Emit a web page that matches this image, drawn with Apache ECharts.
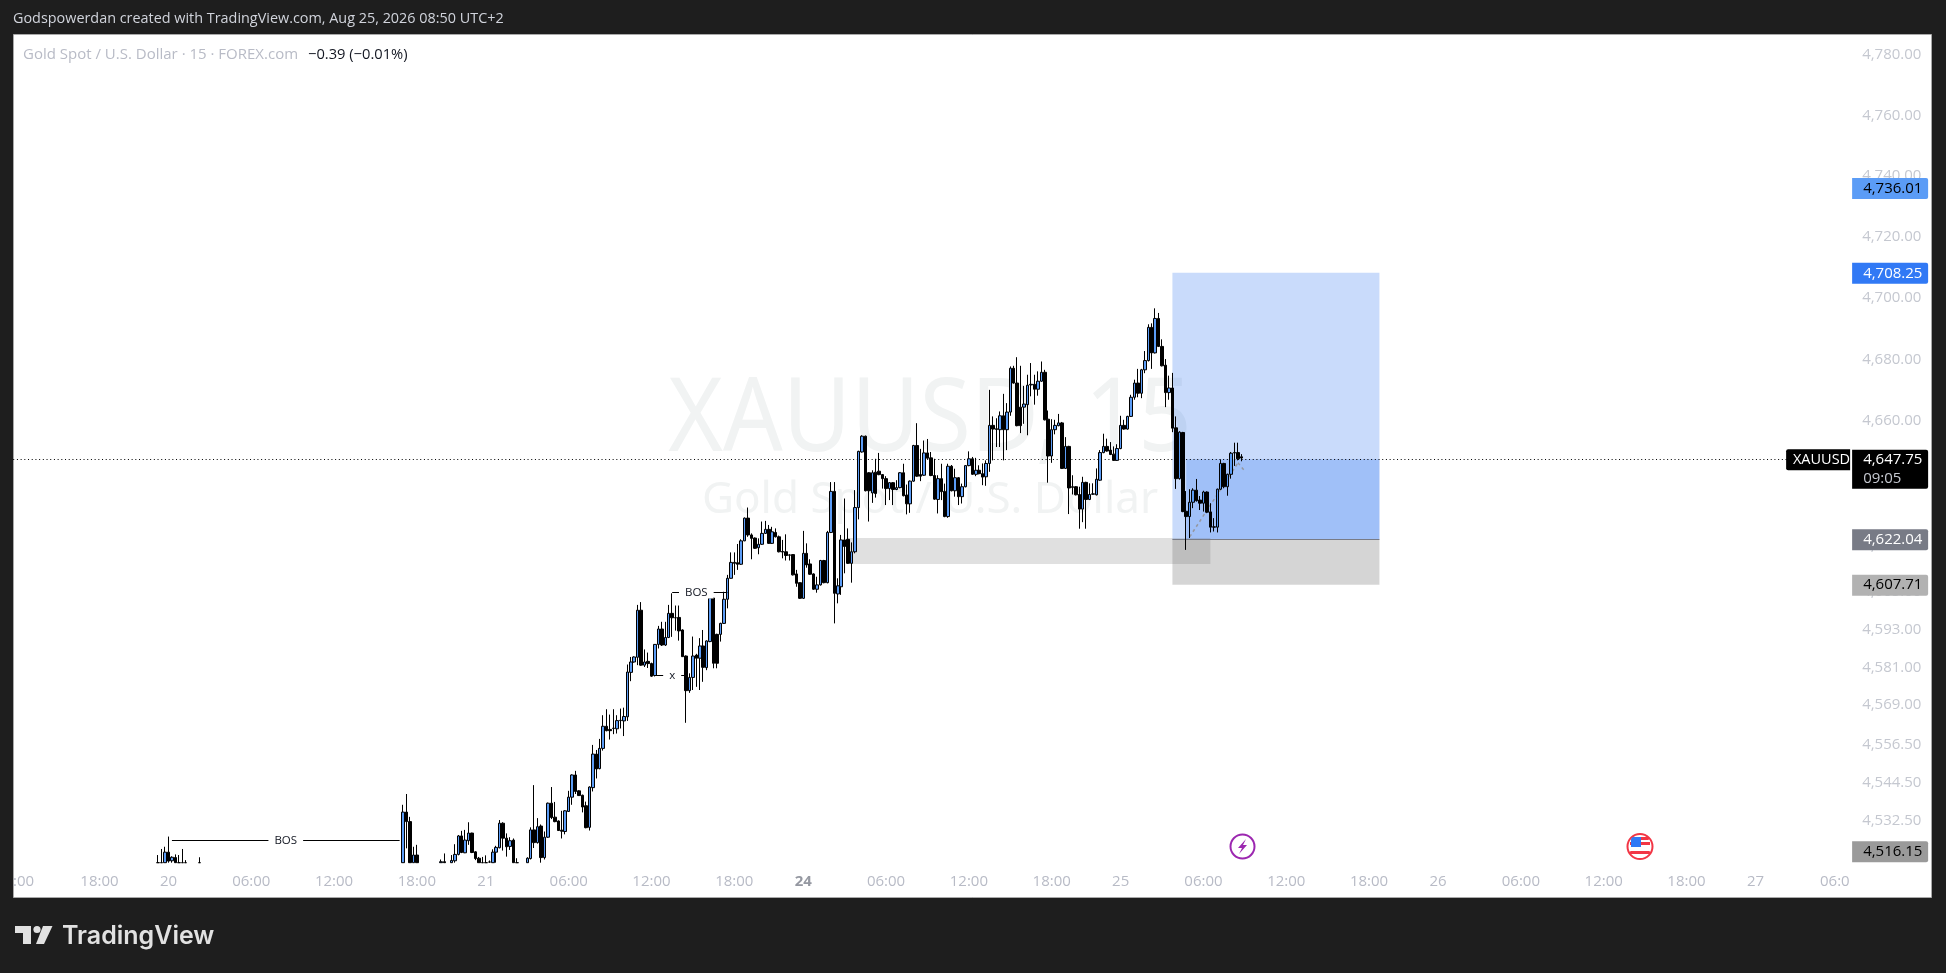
<!DOCTYPE html>
<html><head><meta charset="utf-8">
<style>html,body{margin:0;padding:0;background:#1e1e1e}#c{width:1946px;height:973px}</style>
<script src="https://cdn.jsdelivr.net/npm/echarts@6/dist/echarts.min.js"></script>
</head><body><div id="c"></div>
<script>
// Row layout: [open, close, low, high]. Bars cut by the pane bottom are stored at the visible floor.
const firstBar = 42;
const barCount = 533;
const lateAug19 = [[4519,4519,4519,4521.4],[4519,4519,4519,4523.3],[4519,4522.3,4519,4524]];
const aug20Open = [[4522.3,4519.5,4519,4527.2],[4519.6,4520.7,4519,4521],[4520.6,4519,4519,4521.6],[4519,4519,4519,4521.4],[4519,4519,4519,4523.3],[4519,4519,4519,4519.8],null,null,null,[4519,4519,4519,4520.7]];
const aug20Hidden = 58;
const aug20Evening = [[4519,4534.9,4519,4537.2],[4534.9,4531.9,4523.5,4540.6],[4531.9,4519,4519,4533.4],[4519,4521.4,4519,4524],[4521.4,4519,4519,4524.6]];
const aug20Gap = 6;
const aug20Late = [[4519,4519.3,4519,4520],[4519.3,4519,4519,4521.9],null,[4519,4519.7,4519,4521.4],[4519.6,4521.6,4519,4524.8],[4521.6,4527.4,4521.3,4527.7],[4527.4,4522.2,4522,4529],[4522.1,4526.1,4522,4529.3],[4525.9,4528.3,4524.6,4531.7],[4528.3,4522.2,4522,4528.4],[4522.4,4520.3,4519.8,4522.6],[4520.4,4519,4519,4520.8],[4519,4519,4519,4520.8]];
const aug21Morning = [[4519,4519,4519,4521.3],[4519.2,4519.2,4519,4519.7],[4519,4522.3,4519,4523.2],[4522.3,4523.8,4519,4524.3],[4523.7,4531.4,4523.5,4532.4],[4531.4,4526.7,4522.8,4531.7],[4526.7,4524,4520.9,4528.2],[4524.1,4525.9,4523,4527],[4526.1,4519,4519,4526.6],[4519,4519,4519,4520.4],null,null,[4519,4520.4,4519,4520.7],[4520.3,4529.3,4520,4530.1],[4529.3,4525.3,4523.6,4543.4],[4525.3,4530.3,4525,4533],[4530.5,4520.6,4519,4531],[4520.6,4527,4520,4528.8],[4527,4537.7,4526.8,4537.9],[4537.7,4533.2,4532.7,4542.8],[4533.3,4531.9,4531.7,4538.1],[4532.1,4529.1,4529,4532.3],[4529.2,4528.9,4526.6,4535.3],[4528.8,4535.3,4527.9,4535.5],[4535.1,4539.6,4535,4541.6],[4539.6,4546.6,4537.2,4546.8],[4546.6,4541.4,4540.6,4547.9],[4541.6,4540.1,4540,4541.8],[4540.2,4536.5,4534.8,4540.4],[4536.9,4530,4529.8,4538.2],[4530.1,4542.8,4529.1,4543]];
const aug21Rally = [[4542.6,4553.2,4541.4,4556.1],[4553.2,4548.5,4545.5,4554.5],[4548.6,4555,4548.4,4558],[4555,4562,4554.3,4565.5],[4562,4560.6,4560.4,4567.4],[4561,4560.6,4557.8,4565.7],[4561.3,4561.4,4559.5,4567.4],[4561.2,4563.8,4559.7,4565.5],[4563.8,4563.9,4561.3,4567.6],[4563.7,4565.1,4558.9,4567.9],[4565,4579.2,4563.7,4581.6],[4579.1,4582.4,4576.3,4584],[4582.4,4584,4582.2,4584.2],[4583.9,4598.9,4581.4,4600.6],[4598.9,4581.4,4581.2,4601.5],[4581.4,4582.4,4580.8,4586.4],[4582.6,4581.9,4580.5,4585.4],[4581.9,4577.9,4577.7,4582.2],[4578.1,4588,4577.8,4588.1],[4588,4592.9,4586.7,4593.9],[4592.9,4587.8,4587.5,4595.2],[4587.8,4590.2,4587.5,4595.2],[4590.2,4597.9,4590,4600.6],[4597.9,4596.5,4590.4,4604.3],[4596.5,4596.5,4592.4,4600.4],[4596.6,4592.3,4589.2,4600.4],[4592.6,4584.1,4584,4592.8],[4584.3,4573.3,4563.1,4584.5],[4573.3,4577.5,4572.6,4578.8],[4577.5,4584.3,4573.5,4590.5],[4584.6,4583.6,4574.5,4585],[4583.6,4587.5,4573.5,4590],[4587.5,4580.7,4576.1,4592.6],[4580.6,4589.1,4579.8,4589.3],[4588.9,4602.8,4588.7,4603],[4602.8,4582,4580.4,4603],[4591.2,4582,4580.4,4591.4],[4591.2,4594.7,4588.9,4594.9],[4594.7,4602.4,4594.5,4604.8],[4602.4,4609.1,4599.5,4610.2],[4609.1,4614.2,4609,4617.4],[4614.2,4613.9,4610.2,4617.4],[4614.1,4613.6,4611.8,4620.1],[4613.6,4621.1,4613.4,4621.6],[4621.1,4628.4,4621,4628.6],[4628.4,4623,4622.4,4631.8],[4623,4621.9,4615.2,4623.5],[4622,4618.7,4618.5,4622.2],[4618.9,4620,4616.8,4621.9],[4620,4623.5,4619.8,4627.3],[4623.5,4624.8,4623.3,4627.5],[4624.8,4620.3,4620.1,4626.2],[4620.3,4624,4620.1,4625.6],[4623.8,4622.4,4622.2,4625.1],[4622.4,4617.6,4617.4,4622.8],[4617.7,4617.5,4615.5,4621.4],[4617.6,4616.4,4614.8,4623.2],[4616.6,4616.5,4614.8,4616.8],[4616.7,4610.2,4610,4616.8],[4610.5,4607.5,4606.4,4611.8],[4607.7,4602.7,4602.5,4607.8]];
const aug24Asia = [[4602.7,4617.1,4602.5,4624.3],[4617.1,4613.4,4612.5,4620.3],[4613.7,4610.4,4610.2,4615.2],[4610.5,4605.6,4605.4,4610.7],[4605.6,4607,4604.5,4609.6],[4607,4614.8,4606.8,4615],[4614.8,4607.7,4607.5,4615],[4607.7,4623.8,4607.5,4624.3],[4623.8,4637,4623.6,4640],[4637,4604.3,4594.7,4640],[4604.1,4606.7,4601.1,4609.1],[4606.4,4621.4,4603.8,4623],[4621.4,4619.3,4610.7,4634.7],[4621.6,4613.9,4613.7,4625.1],[4613.9,4617.6,4607.7,4620.6],[4617.6,4631.8,4617.1,4637.4],[4631.8,4649.9,4628,4650.1],[4649.7,4654.8,4649.5,4655.1],[4654.8,4637.2,4637,4655],[4643,4637.2,4627.3,4643.2],[4636.5,4643,4633.3,4643.8],[4643.2,4636.3,4635,4647.5],[4643.5,4642.4,4642.2,4649.4],[4642.4,4641.1,4637.9,4642.6],[4641.1,4637.9,4632.6,4641.9],[4637.9,4639.8,4634.2,4640],[4639.8,4637.6,4632.6,4640],[4637.6,4638.2,4637.4,4640.6],[4638.2,4643,4638,4643.2],[4643,4635.6,4635.4,4645.9],[4635.8,4633,4629.6,4639.2],[4633,4640.3,4630.1,4640.5],[4640.3,4651.8,4640.1,4652],[4651.8,4641.9,4641.7,4659],[4642.4,4641.9,4640.3,4650.7],[4642.2,4649.4,4642,4653.4],[4649.4,4647.7,4647.5,4653.9],[4647.8,4642.1,4641.9,4649.7],[4642.1,4634.5,4634.3,4647.5],[4634.4,4641.1,4629.9,4642.2],[4641.1,4636.9,4634.2,4645.9],[4637,4628.9,4628.7,4639.5],[4628.9,4645.1,4628.5,4645.9],[4645.1,4637.2,4637,4645.5],[4637.2,4641.4,4635.3,4644.3],[4641.4,4635.3,4632.6,4641.6],[4635.3,4638.5,4633.1,4639.5],[4638.5,4645.3,4638.3,4645.5],[4645.3,4647.5,4645.1,4649.9],[4647.5,4642.5,4642.3,4648.1],[4642.5,4643.8,4641.9,4647.8],[4643.8,4642.7,4642.5,4645.4]];
const aug24Late = [[4642.7,4641.6,4639,4646],[4641.7,4646,4638.8,4647],[4646,4658.3,4643.3,4669.8],[4658.3,4657.1,4647,4661.2],[4657.2,4657,4651.3,4660.6],[4656.9,4661.4,4651.3,4662.8],[4661.4,4656.9,4647,4668.5],[4656.9,4662.6,4650.3,4665.5],[4662.6,4676.8,4661.4,4677.4],[4676.8,4672,4671.8,4677.6],[4672,4658.2,4658,4680.4],[4664.2,4658.2,4655.8,4677.6],[4664.2,4665.2,4658.8,4671.1],[4665,4671.3,4655.1,4674.7],[4671.4,4671.6,4667.7,4678.5],[4671.6,4670,4665,4674.7],[4670,4672.6,4667.9,4675.8],[4672.6,4675.5,4672.4,4679],[4675.5,4660.1,4659.9,4676.3],[4660.3,4648.4,4639.8,4663.1],[4648.4,4656.9,4646.2,4660.3],[4656.9,4658.3,4655.4,4660.1],[4658.2,4659.1,4658,4662],[4659.1,4644.4,4644.2,4659.4],[4644.4,4651.5,4644.2,4654.5],[4651.5,4638.1,4629.7,4651.7],[4638.5,4638.3,4636,4642.2],[4638.5,4635.9,4635.7,4638.7],[4636,4631.3,4625,4638.5],[4631.3,4639.9,4627.1,4641.7],[4639.9,4634.4,4625,4640.1],[4634.4,4636,4634.2,4639.6],[4636.1,4636.2,4635.9,4639.6],[4635.9,4640.9,4635.7,4644.4],[4640.6,4649.5,4640.4,4650.3],[4649.5,4651.5,4649.3,4655.6],[4651.5,4650,4649.8,4654],[4650.3,4648.9,4648.7,4652.9],[4649,4647,4646.8,4651.5],[4647,4650.8,4646.8,4652.2]];
const aug25Bars = [[4650.8,4658.3,4650.6,4661.4],[4658.3,4657.1,4656.9,4660.1],[4657.1,4661.2,4656.9,4661.4],[4661.2,4667.4,4661,4668.2],[4667.4,4672,4666.6,4673.1],[4672,4668.7,4667.4,4676.6],[4668.7,4676.3,4667.1,4676.6],[4676.3,4679.3,4675.2,4682.4],[4679.3,4690.1,4679,4691.1],[4690.1,4681.8,4676.6,4691.4],[4681.8,4693,4681.6,4696.3],[4693,4683.9,4683.7,4694.8],[4683.9,4677.6,4677.4,4686.2],[4677.8,4668.9,4664.2,4679.8],[4668.9,4670.4,4666.6,4674.4],[4670.4,4657.4,4656.1,4675.3],[4657.5,4641.1,4637.8,4661.2],[4641.1,4656.1,4640.8,4656.4],[4656,4630.5,4630.3,4656.2],[4630.6,4628.9,4618.2,4637.1],[4628.9,4633.5,4622,4637.7],[4633.5,4637.4,4631.6,4638],[4637.4,4634,4633.7,4641],[4634.2,4633.2,4631,4635.5],[4633.2,4636.8,4630.5,4637.2],[4636.8,4630.3,4630,4637],[4630.4,4625.5,4623.8,4633.2],[4625.6,4625.5,4624.1,4628.4],[4625.5,4637.7,4623.8,4637.9],[4637.7,4646,4637.5,4647.3],[4646,4638.5,4638,4646.2],[4638.5,4642.5,4635.6,4642.7],[4642.5,4649.3,4641.1,4649.7],[4649.4,4649.5,4645.2,4652.7],[4649.5,4647.5,4647,4652.7],[4648.14,4647.75,4646.7,4649]];

const axisMin = 4518.9, axisMax = 4786.6;
const priceTicks = [4780,4760,4740,4720,4700,4680,4660,4640,4620,4605,4593,4581,4569,4556.5,4544.5,4532.5];
const tickBars = [3,25,45,69,93,117,137,161,185,209,229,253,277,301,321,345,369,393,413,437,461,485,505,528];
const tickTexts = [':00','18:00','20','06:00','12:00','18:00','21','06:00','12:00','18:00','{b|24}','06:00','12:00','18:00','25','06:00','12:00','18:00','26','06:00','12:00','18:00','27','06:0'];

const lastPriceText = '4,647.75';
const lastLevel = 4647.35, targetLevel = 4707.9, entryLevel = 4621.65, stopLevel = 4607.05;
const priceTagAnchors = [4735.7,4707.9,4621.65,4607.05,4522.6];
const priceTagTexts = ['4,736.01','4,708.25','4,622.04','4,607.71','4,516.15'];
const priceTagFills = ['#5b9cf6','#3179f5','#787b86','#b2b2b2','#9a9a9a'];
const priceTagInks = ['#000','#fff','#fff','#000','#000'];
const toolBars = [336,396];
const activeBar = 340;
const zoneBars = [242,347], zonePrices = [4622,4613.7];
const noteBars = [79,198,191];
const notePrices = [4525.9,4604.6,4578.1];
const noteTexts = ['BOS','BOS','x'];
const noteSpans = [[46,112],[191,207],[186,195]];
const pathBars = [341,355,357];
const pathPrices = [4622.4,4646.2,4643.5];

const empty = n => new Array(n).fill(null);
const bars = [...lateAug19,...aug20Open,...empty(aug20Hidden),...aug20Evening,...empty(aug20Gap),...aug20Late,...aug21Morning,...aug21Rally,...aug24Asia,...aug24Late,...aug25Bars];
const categories = Array.from({length:barCount},(_,i)=>String(i));
const candleData = categories.map((_,i)=>{const r=bars[i-firstBar];return r?r:['-','-','-','-'];});
const lastBar = barCount-1;
const UI = '"Open Sans","Noto Sans",sans-serif';
const fmt = v => v.toLocaleString('en-US',{minimumFractionDigits:2,maximumFractionDigits:2});
const ghost = {color:'transparent',opacity:1};

const chart = echarts.init(document.getElementById('c'),null,{renderer:'canvas'});
const T = (text,x,y,fill,font,extra={}) => ({type:'text',z:extra.z??-5,silent:true,scaleX:extra.scaleX??1,originX:x,originY:y,style:{text,x,y,fill,font,textVerticalAlign:'middle',textAlign:extra.align||'left'}});
chart.setOption({
 animation:false,
 backgroundColor:'#1e1e1e',
 grid:{left:11.5,top:34,width:1838.85,height:829,containLabel:false},
 xAxis:{type:'category',data:categories,boundaryGap:true,axisLine:{show:false},axisTick:{show:false},splitLine:{show:false},
  axisLabel:{margin:11,fontFamily:UI,fontSize:15,color:'#b8bbc6',hideOverlap:false,interval:(i)=>tickBars.includes(i),
   formatter:(v,i)=>tickTexts[tickBars.indexOf(i)]||'',rich:{b:{fontFamily:UI,fontSize:15,fontWeight:700,color:'#9598a1'}}}},
 yAxis:{type:'log',logBase:10,min:axisMin,max:axisMax,axisLine:{show:false},axisTick:{show:false},axisLabel:{show:false},splitLine:{show:false},minorSplitLine:{show:false}},
 graphic:[
  {type:'rect',z:-10,silent:true,shape:{x:13.5,y:34.5,width:1918,height:863},style:{fill:'#fff',stroke:'#a9a9a9',lineWidth:1}},
  T('XAUUSD, 15',930,422,'#f1f3f3','102px "Noto Sans",sans-serif',{align:'center',scaleX:0.917}),
  T('Gold Spot / U.S. Dollar',930,500,'#f1f3f3','44px "Noto Sans",sans-serif',{align:'center'}),
  T('Godspowerdan created with TradingView.com, Aug 25, 2026 08:50 UTC+2',13,19,'#d1d4dc','14.4px '+UI,{z:20}),
  T('Gold Spot / U.S. Dollar · 15 · FOREX.com',23,55,'#b8bbc6','15px '+UI,{z:20}),
  T('−0.39 (−0.01%)',308,55,'#131722','14.7px '+UI,{z:20}),
  T('TradingView',62,936,'#e1e1e1','600 25px Inter,sans-serif',{z:20}),
  {type:'polygon',z:20,silent:true,shape:{points:[[15,926],[31,926],[31,944],[23,944],[23,933],[15,933]]},style:{fill:'#e1e1e1'}},
  {type:'circle',z:20,silent:true,shape:{cx:37,cy:929.5,r:3.6},style:{fill:'#e1e1e1'}},
  {type:'polygon',z:20,silent:true,shape:{points:[[43,926],[52.5,926],[44,944],[36,944]]},style:{fill:'#e1e1e1'}},
  {type:'circle',z:20,silent:true,shape:{cx:1242.5,cy:846.5,r:12},style:{fill:'#fff',stroke:'#9c27b0',lineWidth:2}},
  {type:'polygon',z:20,silent:true,shape:{points:[[1246,839],[1238,848],[1242,848],[1239,854],[1247,845],[1243,845]]},style:{fill:'#9c27b0'}},
  {type:'circle',z:20,silent:true,shape:{cx:1640,cy:846.5,r:12.5},style:{fill:'#fff',stroke:'#f23645',lineWidth:2}},
  {type:'rect',z:20,silent:true,shape:{x:1632,y:837,width:17,height:3,r:1},style:{fill:'#f23645'}},
  {type:'rect',z:20,silent:true,shape:{x:1630,y:842,width:20,height:3},style:{fill:'#f23645'}},
  {type:'rect',z:20,silent:true,shape:{x:1630,y:851,width:20,height:3,r:1},style:{fill:'#f23645'}},
  {type:'rect',z:20,silent:true,shape:{x:1631,y:837,width:10,height:10,r:[3,0,0,0]},style:{fill:'#3179f5'}}
 ],
 series:[
  {name:'zones',type:'line',data:[],z:1,silent:true,markArea:{silent:true,z:1,data:[
    [{coord:[toolBars[0],targetLevel],itemStyle:{color:'rgba(41,110,240,0.25)'}},{coord:[toolBars[1],entryLevel]}],
    [{coord:[activeBar,lastLevel],itemStyle:{color:'rgba(41,110,240,0.25)'}},{coord:[toolBars[1],entryLevel]}],
    [{coord:[toolBars[0],entryLevel],itemStyle:{color:'rgba(100,100,100,0.27)'}},{coord:[toolBars[1],stopLevel]}],
    [{coord:[zoneBars[0],zonePrices[0]],itemStyle:{color:'rgba(100,100,100,0.2)'}},{coord:[zoneBars[1],zonePrices[1]]}]
  ]}},
  {name:'levels',type:'line',data:[],z:2,silent:true,markLine:{silent:true,z:2,symbol:'none',animation:false,label:{show:false},data:[
    [{coord:[0,lastLevel],lineStyle:{color:'#000',width:1.2,type:[1,2.7]}},{coord:[514,lastLevel]}],
    [{coord:[toolBars[0],entryLevel],lineStyle:{color:'#787b86',width:1,type:'solid'}},{coord:[toolBars[1],entryLevel]}],
    [{coord:[pathBars[0],pathPrices[0]],lineStyle:{color:'#9598a1',width:1.5,type:[3,3]}},{coord:[pathBars[1],pathPrices[1]]}],
    [{coord:[pathBars[1],pathPrices[1]],lineStyle:{color:'#9598a1',width:1.5,type:[3,3]}},{coord:[pathBars[2],pathPrices[2]]}]
  ]}},
  {name:'XAUUSD',type:'candlestick',data:candleData,z:5,clip:true,barWidth:3,silent:true,
   itemStyle:{color:'#5b9cf6',color0:'#000',borderColor:'#000',borderColor0:'#000',borderWidth:1}},
  {name:'structure',type:'line',data:[],z:6,silent:true,markLine:{silent:true,z:6,symbol:'none',animation:false,label:{show:false},
    lineStyle:{color:'#000',width:1,type:'solid'},
    data:noteSpans.map((s,i)=>[{coord:[s[0],notePrices[i]]},{coord:[s[1],notePrices[i]]}])}},
  {name:'notes',type:'scatter',z:7,silent:true,symbolSize:1,itemStyle:ghost,clip:false,
   data:noteBars.map((b,i)=>[b,notePrices[i]]),
   label:{show:true,position:'inside',color:'#131722',fontFamily:UI,fontSize:11.5,backgroundColor:'#fff',padding:[0,6],formatter:p=>noteTexts[p.dataIndex]}},
  {name:'priceTicks',type:'scatter',z:8,silent:true,symbolSize:1,itemStyle:ghost,clip:false,
   data:priceTicks.map(p=>[lastBar,p]),
   label:{show:true,position:'right',distance:13,offset:[0,1],color:'#c5c8d0',fontFamily:UI,fontSize:15,formatter:p=>fmt(p.value[1])}},
  {name:'priceTags',type:'scatter',z:9,silent:true,symbolSize:1,itemStyle:ghost,clip:false,
   data:priceTagAnchors.map((p,i)=>({value:[lastBar,p],label:{backgroundColor:priceTagFills[i],color:priceTagInks[i]}})),
   label:{show:true,position:'right',distance:3,offset:[0,0.5],width:65,height:21,lineHeight:21,padding:[0,0,0,11],fontFamily:UI,fontSize:15,borderRadius:[0,2,2,0],formatter:p=>priceTagTexts[p.dataIndex]}},
  {name:'lastTag',type:'scatter',z:10,silent:true,symbolSize:1,itemStyle:ghost,clip:false,
   data:[[lastBar,lastLevel]],
   label:{show:true,position:'right',distance:3,offset:[0,10],width:65,height:39,padding:[0,0,0,11],backgroundColor:'#000',borderRadius:[0,2,2,0],
    formatter:()=>'{a|'+lastPriceText+'}\n{b|09:05}',rich:{a:{color:'#fff',fontFamily:UI,fontSize:15,lineHeight:20},b:{color:'#c5c8d0',fontFamily:UI,fontSize:15,lineHeight:18}}}},
  {name:'symbolTag',type:'scatter',z:10,silent:true,symbolSize:1,itemStyle:ghost,clip:false,
   data:[[lastBar,lastLevel]],
   label:{show:true,position:'left',distance:-2,offset:[0,0.5],width:60,height:21,lineHeight:21,padding:[0,0,0,4],backgroundColor:'#000',color:'#fff',fontFamily:UI,fontSize:14.5,borderRadius:[2,0,0,2],formatter:()=>'XAUUSD'}}
 ]
});
</script></body></html>
